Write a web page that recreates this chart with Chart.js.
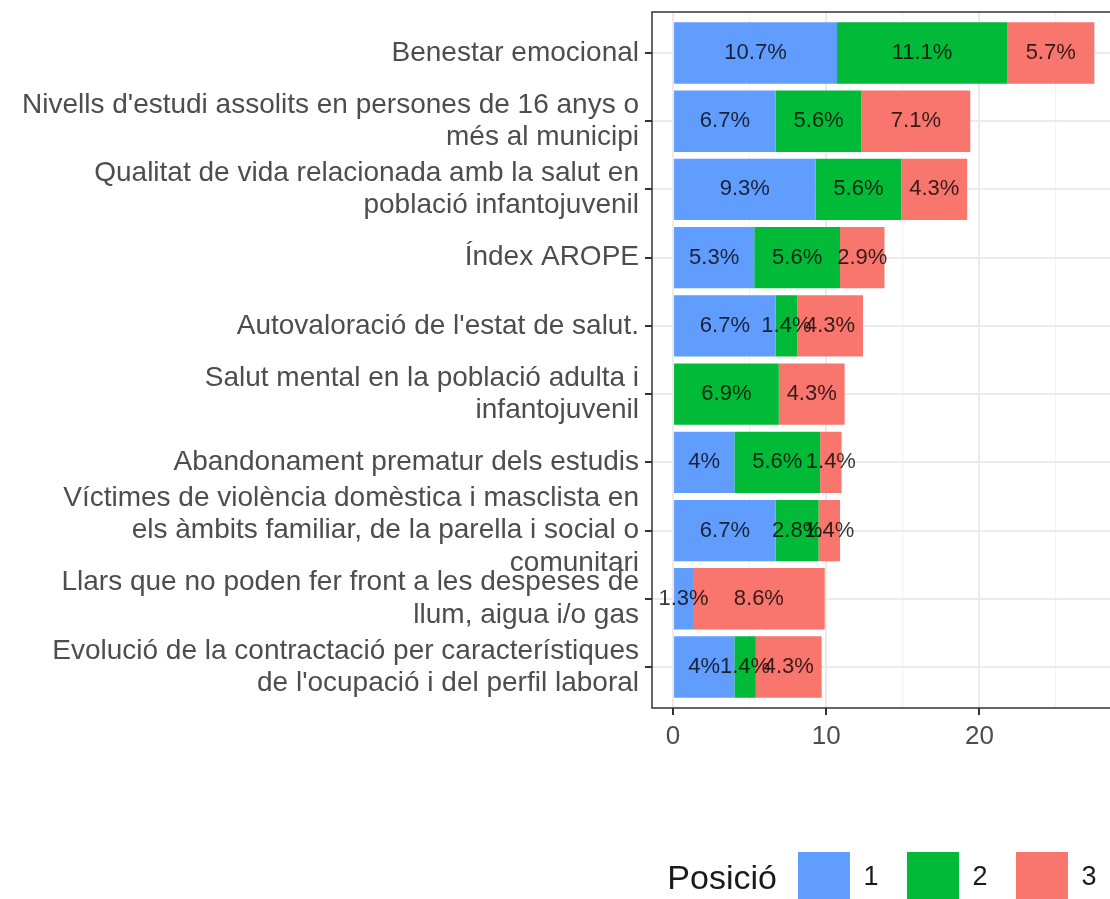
<!DOCTYPE html>
<html lang="ca">
<head>
<meta charset="utf-8">
<title>Posició dels indicadors</title>
<script src="https://cdn.jsdelivr.net/npm/chart.js@4.4.1/dist/chart.umd.min.js"></script>
<style>
  body { margin: 0; background: #fff; }
  #cadre { width: 1110px; height: 899px; overflow: hidden; }
  canvas { display: block; }
</style>
</head>
<body>
<div id="cadre"><canvas id="grafic" width="1125" height="914"></canvas></div>
<script>
// Indicadors (eix vertical), ja partits en línies com a la imatge
const indicadors = [
  ['Benestar emocional'],
  ["Nivells d'estudi assolits en persones de 16 anys o", 'més al municipi'],
  ['Qualitat de vida relacionada amb la salut en', 'població infantojuvenil'],
  ['Índex AROPE'],
  ["Autovaloració de l'estat de salut."],
  ['Salut mental en la població adulta i', 'infantojuvenil'],
  ['Abandonament prematur dels estudis'],
  ['Víctimes de violència domèstica i masclista en', 'els àmbits familiar, de la parella i social o', 'comunitari'],
  ['Llars que no poden fer front a les despeses de', 'llum, aigua i/o gas'],
  ['Evolució de la contractació per característiques', "de l'ocupació i del perfil laboral"]
]

// % de vots per posició
const posicio1 = [10.7, 6.7, 9.3, 5.3, 6.7, 0, 4, 6.7, 1.3, 4]
const posicio2 = [11.1, 5.6, 5.6, 5.6, 1.4, 6.9, 5.6, 2.8, 0, 1.4]
const posicio3 = [5.7, 7.1, 4.3, 2.9, 4.3, 4.3, 1.4, 1.4, 8.6, 4.3]
const nomsPosicio = ['1', '2', '3']

// Marques de l'eix horitzontal (les de 5 en 5 són secundàries, sense text)
const ticksX = [0, 5, 10, 15, 20, 25]
const etiquetesX = ['0', '', '10', '', '20', '']

const colors = ['#619CFF', '#00BA38', '#F8766D']
const font = "'Liberation Sans', Arial, sans-serif"
Chart.defaults.font.family = font

const series = [posicio1, posicio2, posicio3]
const datasets = series.map((valors, s) => ({
  label: nomsPosicio[s],
  data: valors.map((v, i) => ({ x: v, y: i })),
  backgroundColor: colors[s],
  borderWidth: 0,
  categoryPercentage: 0.9,
  barPercentage: 1
}))

// Text dins de cada tram de barra + vora del panell
const etiquetesBarres = {
  id: 'etiquetesBarres',
  afterDatasetsDraw(chart) {
    const ctx = chart.ctx
    ctx.save()
    ctx.font = '22px ' + font
    ctx.fillStyle = 'rgba(0, 0, 0, 0.78)'
    ctx.textAlign = 'center'
    ctx.textBaseline = 'middle'
    chart.data.datasets.forEach((ds, s) => {
      chart.getDatasetMeta(s).data.forEach((barra, i) => {
        const v = ds.data[i].x
        if (!v) return
        ctx.fillText(v + '%', (barra.x + barra.base) / 2, barra.y)
      })
    })
    const a = chart.chartArea
    ctx.strokeStyle = '#333333'
    ctx.lineWidth = 1.5
    ctx.strokeRect(a.left, a.top, a.right - a.left, a.bottom - a.top)
    ctx.restore()
  }
}

// Títol de la llegenda a l'esquerra de les caixes (com a ggplot)
const titolLlegenda = {
  id: 'titolLlegenda',
  afterDraw(chart) {
    const caixa = chart.legend.legendHitBoxes[0]
    if (!caixa) return
    const ctx = chart.ctx
    ctx.save()
    ctx.font = '34px ' + font
    ctx.fillStyle = '#1A1A1A'
    ctx.textAlign = 'right'
    ctx.textBaseline = 'middle'
    ctx.fillText('Posició', caixa.left - 21, caixa.top + caixa.height / 2 + 2)
    ctx.restore()
  }
}

new Chart(document.querySelector('#grafic'), {
  type: 'bar',
  data: { datasets: datasets },
  plugins: [etiquetesBarres, titolLlegenda],
  options: {
    indexAxis: 'y',
    responsive: false,
    devicePixelRatio: 1,
    animation: false,
    layout: { padding: { top: 12, left: 0, right: 0, bottom: 0 } },
    scales: {
      x: {
        type: 'linear',
        stacked: true,
        min: -1.375,
        max: 29.5,
        afterBuildTicks: axis => { axis.ticks = ticksX.map(v => ({ value: v })) },
        afterFit: axis => { axis.height = 115.5 },
        border: { display: false },
        grid: {
          color: c => c.tick && c.tick.value % 10 === 0 ? '#EBEBEB' : '#F3F3F3',
          lineWidth: c => c.tick && c.tick.value % 10 === 0 ? 2 : 1.2,
          drawTicks: true,
          tickLength: 7,
          tickWidth: 2,
          tickColor: c => c.tick && c.tick.value % 10 === 0 ? '#333333' : 'rgba(0,0,0,0)'
        },
        ticks: {
          autoSkip: false,
          maxRotation: 0,
          padding: 6,
          color: '#4D4D4D',
          font: { size: 26 },
          callback: (v, i) => etiquetesX[i]
        }
      },
      y: {
        type: 'linear',
        stacked: true,
        reverse: true,
        offset: false,
        min: -0.6,
        max: 9.6,
        afterBuildTicks: axis => { axis.ticks = indicadors.map((c, i) => ({ value: i })) },
        afterFit: axis => {
          axis.width = 652
          axis.paddingTop = 0
          axis.paddingBottom = 0
        },
        border: { display: false },
        grid: {
          offset: false,
          color: '#EBEBEB',
          lineWidth: 2,
          drawTicks: true,
          tickLength: 7,
          tickWidth: 2,
          tickColor: '#333333'
        },
        ticks: {
          autoSkip: false,
          padding: 6,
          color: '#4D4D4D',
          font: { size: 28, lineHeight: 1.15 },
          callback: (v, i) => indicadors[i]
        }
      }
    },
    plugins: {
      legend: {
        position: 'bottom',
        align: 'end',
        labels: {
          boxWidth: 52,
          boxHeight: 52,
          padding: 28.5,
          color: '#1A1A1A',
          font: { size: 27 }
        }
      },
      tooltip: { enabled: false }
    }
  }
})
</script>
</body>
</html>
